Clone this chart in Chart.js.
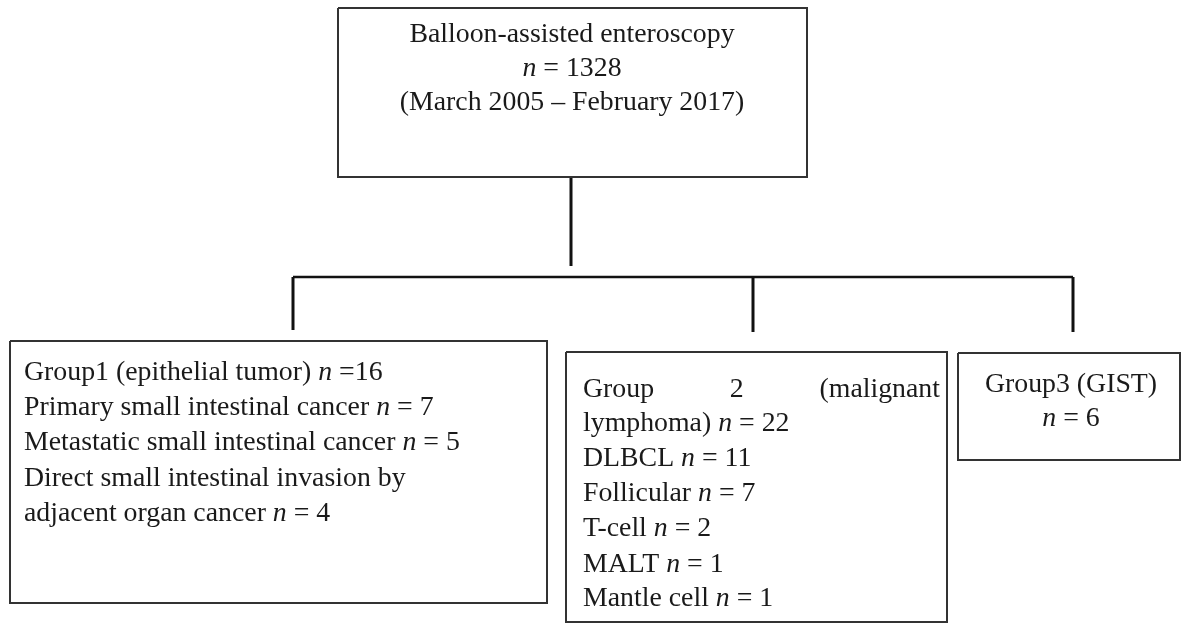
<!DOCTYPE html>
<html>
<head>
<meta charset="utf-8">
<script src="https://cdn.jsdelivr.net/npm/chart.js@4.4.0/dist/chart.umd.min.js"></script>
<style>
  html, body { margin: 0; padding: 0; background: #fff; }
  #flow { display: block; }
</style>
</head>
<body>
<canvas id="flow" width="1192" height="623"></canvas>
<script>
// text of each node, *n* marks italic
const topLines = ['Balloon-assisted enteroscopy', '*n* = 1328', '(March 2005 \u2013 February 2017)'];
const group1Lines = [
  'Group1 (epithelial tumor) *n* =16',
  'Primary small intestinal cancer *n* = 7',
  'Metastatic small intestinal cancer *n* = 5',
  'Direct small intestinal invasion by',
  'adjacent organ cancer *n* = 4'
];
const group2Lines = [
  'Group 2 (malignant',
  'lymphoma) *n* = 22',
  'DLBCL *n* = 11',
  'Follicular *n* = 7',
  'T-cell *n* = 2',
  'MALT *n* = 1',
  'Mantle cell *n* = 1'
];
const group3Lines = ['Group3 (GIST)', '*n* = 6'];

// layout in chart units (x 0..1192, y 0..623 from top)
const boxLeft   = [338, 10, 566, 958];
const boxRight  = [807, 547, 947, 1180];
const boxTop    = [8, 341, 352, 353];
const boxBottom = [177, 603, 622, 460];
const textX     = [572, 24, 583, 1071];
const textAlign = ['center', 'left', 'left', 'center'];
const baselines = [
  [42, 76, 110],
  [380, 415, 450, 486, 521],
  [397, 431, 466, 501, 536, 572, 606],
  [392, 426]
];
const nodeLines = [topLines, group1Lines, group2Lines, group3Lines];

// connector lines
const trunk = [571, 177, 571, 266];
const bar   = [293, 277, 1073, 277];
const dropX = [293, 753, 1073];
const dropBottom = [330, 332, 332];

const FONT = '"Liberation Serif", "Times New Roman", serif';
const SIZE = 27;
const SX = 1.03; // reference face runs a little wider than Times

const datasets = [];
for (let i = 0; i < boxLeft.length; i++) {
  datasets.push({
    data: [
      {x: boxLeft[i], y: boxTop[i]}, {x: boxRight[i], y: boxTop[i]},
      {x: boxRight[i], y: boxBottom[i]}, {x: boxLeft[i], y: boxBottom[i]},
      {x: boxLeft[i], y: boxTop[i]}
    ],
    showLine: true, borderColor: '#333', borderWidth: 2, pointRadius: 0, clip: false
  });
}
datasets.push({
  data: [{x: trunk[0], y: trunk[1]}, {x: trunk[2], y: trunk[3]}],
  showLine: true, borderColor: '#111', borderWidth: 3, pointRadius: 0, clip: false
});
datasets.push({
  data: [{x: bar[0], y: bar[1]}, {x: bar[2], y: bar[3]}],
  showLine: true, borderColor: '#111', borderWidth: 2.5, pointRadius: 0, clip: false
});
dropX.forEach((x, i) => {
  datasets.push({
    data: [{x: x, y: bar[1]}, {x: x, y: dropBottom[i]}],
    showLine: true, borderColor: '#111', borderWidth: 3, pointRadius: 0, clip: false
  });
});

function segs(str) {
  return str.split('*').map((t, i) => ({t: t, it: i % 2 === 1}));
}
function setFont(ctx, it) {
  ctx.font = (it ? 'italic ' : '') + SIZE + 'px ' + FONT;
}
function textW(ctx, t) {
  return ctx.measureText(t).width * SX;
}
function drawAt(ctx, t, x, y) {
  ctx.save();
  ctx.translate(x, y);
  ctx.scale(SX, 1);
  ctx.fillText(t, 0, 0);
  ctx.restore();
}

const textPlugin = {
  id: 'nodeText',
  afterDatasetsDraw(chart) {
    const ctx = chart.ctx;
    const xs = chart.scales.x, ys = chart.scales.y;
    ctx.save();
    ctx.fillStyle = '#1a1a1a';
    ctx.textBaseline = 'alphabetic';
    ctx.textAlign = 'left';
    nodeLines.forEach((lines, n) => {
      lines.forEach((line, k) => {
        const y = ys.getPixelForValue(baselines[n][k]);
        // first line of group 2 is justified across the box
        if (n === 2 && k === 0) {
          const words = line.split(' ');
          setFont(ctx, false);
          const left = xs.getPixelForValue(textX[n]);
          const right = xs.getPixelForValue(boxRight[n] - 7);
          const total = words.reduce((s, w) => s + textW(ctx, w), 0);
          const gap = (right - left - total) / (words.length - 1);
          let x = left;
          words.forEach(w => { drawAt(ctx, w, x, y); x += textW(ctx, w) + gap; });
          return;
        }
        const parts = segs(line);
        let x = xs.getPixelForValue(textX[n]);
        if (textAlign[n] === 'center') {
          let w = 0;
          parts.forEach(p => { setFont(ctx, p.it); w += textW(ctx, p.t); });
          x -= w / 2;
        }
        parts.forEach(p => {
          setFont(ctx, p.it);
          drawAt(ctx, p.t, x, y);
          x += textW(ctx, p.t);
        });
      });
    });
    ctx.restore();
  }
};

new Chart(document.getElementById('flow'), {
  type: 'scatter',
  data: { datasets: datasets },
  options: {
    responsive: false,
    animation: false,
    devicePixelRatio: 1,
    layout: { padding: 0 },
    scales: {
      x: { type: 'linear', min: 0, max: 1192, display: false },
      y: { type: 'linear', min: 0, max: 623, reverse: true, display: false }
    },
    plugins: { legend: { display: false }, tooltip: { enabled: false } },
    elements: { line: { tension: 0 } }
  },
  plugins: [textPlugin]
});
</script>
</body>
</html>
